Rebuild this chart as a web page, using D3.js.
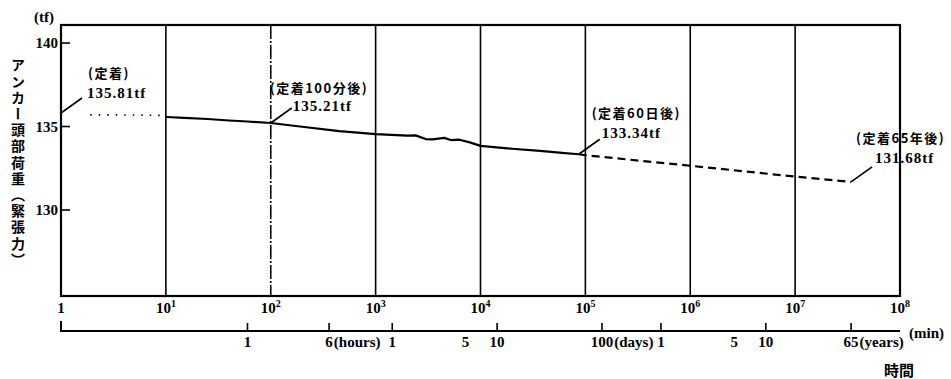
<!DOCTYPE html>
<html><head><meta charset="utf-8">
<script src="https://cdn.jsdelivr.net/npm/d3@7"></script>
<style>body{margin:0;background:#fff}svg{display:block}</style>
</head><body><svg id="c" width="951" height="379"></svg>
<script>
// ---- data ----
const decadeTicks = [1, 1e1, 1e2, 1e3, 1e4, 1e5, 1e6, 1e7, 1e8];
const decadeExponents = ["", "1", "2", "3", "4", "5", "6", "7", "8"];
const loadTicks = [130, 135, 140];
const earlyTimes = [1.9, 3, 5, 7, 9.5];
const earlyValues = [135.70, 135.70, 135.69, 135.68, 135.66];
const measuredTimes = [10, 15, 25, 40, 60, 100, 190, 450, 1000, 2000, 2400, 3000, 3500, 4500, 5300, 6300, 7900, 10000, 20000, 37000, 60000, 86400];
const measuredValues = [135.57, 135.52, 135.45, 135.36, 135.30, 135.21, 135.00, 134.72, 134.55, 134.45, 134.47, 134.25, 134.23, 134.32, 134.18, 134.21, 134.05, 133.84, 133.67, 133.54, 133.42, 133.34];
const predictedTimes = [86400, 1e5, 1e6, 1e7, 34164000];
const predictedValues = [133.34, 133.28, 132.65, 132.0, 131.68];
const annoTimes = [1, 100, 86400, 34164000];
const annoValues = [135.81, 135.21, 133.34, 131.68];
const annoTitles = ["(定着)", "(定着100分後)", "(定着60日後)", "(定着65年後)"];
const annoValueTexts = ["135.81tf", "135.21tf", "133.34tf", "131.68tf"];
const secMinutes = [60, 360, 1440, 7200, 14400, 144000, 525600, 2628000, 5256000, 34164000];
const secNumbers = ["1", "6", "1", "5", "10", "100", "1", "5", "10", "65"];
const secUnits = ["", "(hours)", "", "", "", "(days)", "", "", "", "(years)"];
const secHasTick = [true, true, true, false, true, true, true, false, true, true];
const yTitle = "アンカー頭部荷重（緊張力）";

// ---- layout ----
const L = 61, R = 900, T = 25, B = 296, AX2 = 331;
const svg = d3.select("#c");
const x = d3.scaleLog().domain([1, 1e8]).range([L, R]);
const y = d3.scaleLinear().domain([124.85, 141.08]).range([B, T]);
const numFont = "'Liberation Serif', serif";
const jpFont = "'Noto Sans CJK JP', sans-serif";

// grid lines
svg.append("g").selectAll("line").data(decadeTicks.slice(1, -1)).join("line")
  .attr("x1", d => x(d)).attr("x2", d => x(d)).attr("y1", T).attr("y2", B)
  .attr("stroke", "#000").attr("stroke-width", 1.6)
  .attr("stroke-dasharray", d => d === 1e2 ? "14,2,2,2" : null);

// frame
svg.append("rect").attr("x", L).attr("y", T).attr("width", R - L).attr("height", B - T)
  .attr("fill", "none").attr("stroke", "#000").attr("stroke-width", 2.2);

// y ticks
const yt = svg.append("g");
yt.selectAll("line").data(loadTicks).join("line")
  .attr("x1", L).attr("x2", L + 9).attr("y1", d => y(d)).attr("y2", d => y(d))
  .attr("stroke", "#000").attr("stroke-width", 1.6);
yt.selectAll("text").data(loadTicks).join("text")
  .attr("x", L - 3).attr("y", d => y(d)).attr("dy", "0.35em").attr("text-anchor", "end")
  .attr("font-family", numFont).attr("font-weight", "bold").attr("font-size", 15)
  .text(d => d);
svg.append("text").attr("x", 44).attr("y", 22).attr("text-anchor", "middle")
  .attr("font-family", numFont).attr("font-weight", "bold").attr("font-size", 15).text("(tf)");

// y title (vertical)
svg.append("text").attr("x", 18).attr("y", 58)
  .attr("font-family", jpFont).attr("font-weight", "bold").attr("font-size", 14)
  .attr("letter-spacing", 2.2)
  .style("writing-mode", "vertical-rl").style("glyph-orientation-vertical", "0")
  .text(yTitle);

// x decade labels
const xl = svg.append("g").attr("font-family", numFont).attr("font-weight", "bold");
decadeTicks.forEach((d, i) => {
  const t = xl.append("text").attr("x", x(d)).attr("y", 313).attr("text-anchor", "middle").attr("font-size", 15);
  if (i === 0) { t.text("1"); return; }
  t.append("tspan").text("10");
  t.append("tspan").attr("font-size", 10).attr("dy", -6).text(decadeExponents[i]);
});

// secondary time axis
const sa = svg.append("g");
sa.append("path").attr("d", `M${L},${AX2 - 10}V${AX2}H${R}`).attr("fill", "none")
  .attr("stroke", "#000").attr("stroke-width", 2);
sa.selectAll("line").data(secMinutes.filter((d, i) => secHasTick[i])).join("line")
  .attr("x1", d => x(d)).attr("x2", d => x(d)).attr("y1", AX2).attr("y2", AX2 - 8)
  .attr("stroke", "#000").attr("stroke-width", 1.6);
secMinutes.forEach((d, i) => {
  const num = sa.append("text").attr("x", x(d)).attr("y", 347).attr("text-anchor", "middle")
    .attr("font-family", numFont).attr("font-weight", "bold").attr("font-size", 15).text(secNumbers[i]);
  if (secUnits[i]) {
    const w = num.node().getComputedTextLength();
    sa.append("text").attr("x", x(d) + w / 2 + 1).attr("y", 347)
      .attr("font-family", numFont).attr("font-weight", "bold").attr("font-size", 15).text(secUnits[i]);
  }
});
svg.append("text").attr("x", 909).attr("y", 338).attr("font-family", numFont).attr("font-weight", "bold")
  .attr("font-size", 15).text("(min)");
svg.append("text").attr("x", 884).attr("y", 376).attr("font-family", jpFont).attr("font-weight", "bold")
  .attr("font-size", 15).text("時間");

// data lines
const line = d3.line().x(d => x(d[0])).y(d => y(d[1]));
svg.append("path").datum(d3.zip(earlyTimes, earlyValues)).attr("d", line)
  .attr("fill", "none").attr("stroke", "#000").attr("stroke-width", 1.6).attr("stroke-dasharray", "1.5,7");
svg.append("path").datum(d3.zip(measuredTimes, measuredValues)).attr("d", line)
  .attr("fill", "none").attr("stroke", "#000").attr("stroke-width", 2.2).attr("stroke-linejoin", "round");
svg.append("path").datum(d3.zip(predictedTimes, predictedValues)).attr("d", line)
  .attr("fill", "none").attr("stroke", "#000").attr("stroke-width", 2.2).attr("stroke-dasharray", "8,5");

// annotations
const titleDx = [27, -1, 13, 5], valueDx = [26, 22, 23, 24];
const titleDy = [-40, -35, -41, -44], valueDy = [-20, -17, -21, -24];
annoTimes.forEach((t, i) => {
  const px = x(t), py = y(annoValues[i]);
  svg.append("line").attr("x1", px).attr("y1", py).attr("x2", px + 21).attr("y2", py - 15)
    .attr("stroke", "#000").attr("stroke-width", 1.6);
  svg.append("text").attr("x", px + titleDx[i]).attr("y", py + titleDy[i]).attr("dy", "0.35em")
    .attr("font-family", jpFont).attr("font-weight", "bold").attr("font-size", 13).attr("letter-spacing", 1.5)
    .text(annoTitles[i]);
  svg.append("text").attr("x", px + valueDx[i]).attr("y", py + valueDy[i]).attr("dy", "0.35em")
    .attr("font-family", numFont).attr("font-weight", "bold").attr("font-size", 15).attr("letter-spacing", 1)
    .text(annoValueTexts[i]);
});
</script></body></html>
